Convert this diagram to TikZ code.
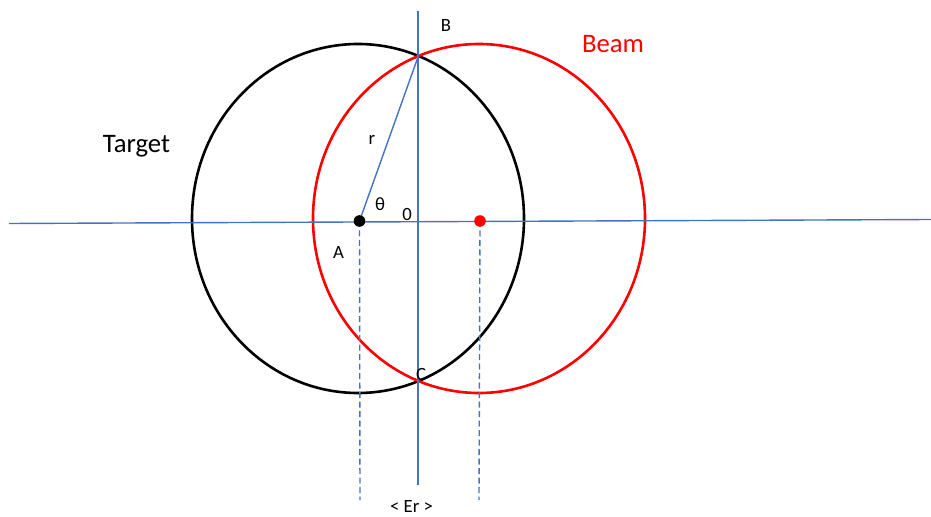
\documentclass[tikz,border=0pt]{standalone}
\usepackage{fontspec}
\setmainfont{Carlito}
\begin{document}
\begin{tikzpicture}[x=1bp,y=-1bp,
  axis/.style={draw=axisblue,line width=1.4bp},
  guide/.style={draw=axisblue,line width=1.4bp,dash pattern=on 6bp off 3.5bp},
  ring/.style={line width=2.6bp},
  small/.style={font=\fontsize{18.7bp}{22bp}\selectfont,anchor=base,inner sep=0pt},
  big/.style={font=\fontsize{26.7bp}{32bp}\selectfont,anchor=base,inner sep=0pt}]
\definecolor{axisblue}{RGB}{68,114,196}
\definecolor{beamred}{RGB}{255,0,0}
\useasboundingbox (0,0) rectangle (931,517);
% coordinates
\coordinate (hl) at (9,223.5);
\coordinate (hr) at (931,219.5);
\coordinate (vt) at (418,11);
\coordinate (vb) at (418,485);
\coordinate (A) at (359.5,221);
\coordinate (B) at (418,57);
\coordinate (Rc) at (480,221);
\coordinate (Ad) at (360,500);
\coordinate (Rd) at (479,500);
% circles
\draw[ring,black] (358,218.5) ellipse [x radius=166,y radius=174.5];
\draw[ring,beamred] (479,218.5) ellipse [x radius=166,y radius=174.5];
% axes
\draw[axis] (hl) -- (hr);
\draw[axis] (vt) -- (vb);
\draw[axis] (A) -- (B);
\draw[guide] (A) -- (Ad);
\draw[guide] (Rc) -- (Rd);
% dots
\fill[black] (A) circle (5.8);
\fill[beamred] (Rc) circle (5.8);
% labels
\node[small] (lB) at (446,32) {B};
\node[small] (lr) at (372,145) {r};
\node[small] (lth) at (380,211) {θ};
\node[small] (l0) at (407,221) {0};
\node[small] (lA) at (338.5,259) {A};
\node[small] (lC) at (421,380) {C};
\node[small] (lEr) at (411.5,512.5) {< Er >};
\node[big,text=beamred] (lBeam) at (613,53) {Beam};
\node[big] (lTarget) at (136.5,153) {Target};
\end{tikzpicture}
\end{document}
